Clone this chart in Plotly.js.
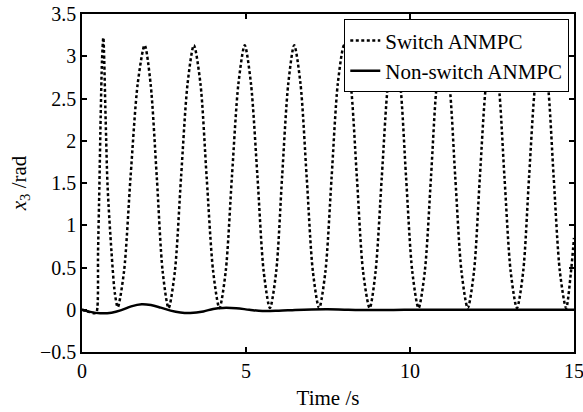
<!DOCTYPE html>
<html>
<head>
<meta charset="utf-8">
<script src="https://cdn.plot.ly/plotly-3.0.1.min.js"></script>
<style>html,body{margin:0;padding:0;background:#fff;}#chart{width:583px;height:412px;}</style>
</head>
<body>
<div id="chart"></div>
<script>
// Switch ANMPC (time in s, x3 in rad)
var switchTime = [0, 0.2, 0.4, 0.45, 0.49, 0.53, 0.57, 0.61, 0.65, 0.72, 0.78, 0.9, 1.0, 1.09,
  1.28, 1.48, 1.70, 1.91, 2.09, 2.28, 2.46, 2.64,
  2.83, 3.02, 3.22, 3.41, 3.61, 3.80, 4.00, 4.19,
  4.38, 4.57, 4.77, 4.96, 5.15, 5.35, 5.54, 5.73,
  5.92, 6.10, 6.29, 6.47, 6.66, 6.85, 7.04, 7.23,
  7.42, 7.61, 7.80, 7.99, 8.19, 8.38, 8.57, 8.77,
  8.95, 9.14, 9.33, 9.51, 9.70, 9.88, 10.07, 10.26,
  10.45, 10.64, 10.82, 11.01, 11.20, 11.38, 11.57, 11.76,
  11.95, 12.13, 12.32, 12.51, 12.70, 12.88, 13.07, 13.26,
  13.45, 13.63, 13.82, 14.01, 14.20, 14.38, 14.57, 14.76,
  14.90, 15.0];
var switchX3 = [0, -0.025, -0.04, -0.02, 0.7, 1.46, 2.3, 2.95, 3.22, 2.26, 1.46, 0.68, 0.2, 0.03,
  0.45, 1.57, 2.68, 3.13, 2.68, 1.57, 0.45, 0.02,
  0.45, 1.57, 2.68, 3.13, 2.68, 1.57, 0.45, 0.02,
  0.45, 1.57, 2.68, 3.13, 2.68, 1.57, 0.45, 0.02,
  0.45, 1.57, 2.68, 3.13, 2.68, 1.57, 0.45, 0.02,
  0.45, 1.57, 2.68, 3.13, 2.68, 1.57, 0.45, 0.02,
  0.45, 1.57, 2.68, 3.13, 2.68, 1.57, 0.45, 0.02,
  0.45, 1.57, 2.68, 3.13, 2.68, 1.57, 0.45, 0.02,
  0.45, 1.57, 2.68, 3.13, 2.68, 1.57, 0.45, 0.02,
  0.45, 1.57, 2.68, 3.13, 2.68, 1.57, 0.45, 0.02,
  0.42, 0.85];

// Non-switch ANMPC
var nonSwitchTime = [0, 0.25, 0.55, 0.9, 1.2, 1.5, 1.82, 2.1, 2.4, 2.7, 3.0, 3.3, 3.7, 4.0, 4.3, 4.7,
  5.1, 5.5, 6.0, 6.5, 7.0, 7.5, 8.0, 8.5, 9.5, 10.5, 12.0, 13.5, 15.0];
var nonSwitchX3 = [0, -0.025, -0.042, -0.035, -0.005, 0.04, 0.065, 0.055, 0.025, -0.01, -0.032, -0.038, -0.02, 0.01, 0.022, 0.018,
  0.0, -0.015, -0.012, -0.003, 0.003, 0.005, 0.0, -0.004, -0.002, 0.0, 0.0, 0.0, 0.0];

var xTicks = [0, 5, 10, 15];
var yTicks = [-0.5, 0, 0.5, 1, 1.5, 2, 2.5, 3, 3.5];
var seriesNames = ['Switch ANMPC', 'Non-switch ANMPC'];

// Plotly quotes the whole family string, so give a single installed family
var fontFam = 'Liberation Serif';

var traces = [
  {x: switchTime, y: switchX3, name: seriesNames[0], type: 'scatter', mode: 'lines',
   line: {color: '#000', width: 2.5, dash: '3px,2.5px', shape: 'spline', smoothing: 0.8}},
  {x: nonSwitchTime, y: nonSwitchX3, name: seriesNames[1], type: 'scatter', mode: 'lines',
   line: {color: '#000', width: 2.5, shape: 'spline', smoothing: 1}}
];

function axisCommon() {
  return {
    showline: true, linecolor: '#000', linewidth: 1.5, mirror: 'ticks',
    ticks: 'inside', ticklen: 5, tickwidth: 1.5, tickcolor: '#000',
    showgrid: false, zeroline: false, ticklabeloverflow: 'allow',
    tickfont: {family: fontFam, size: 20, color: '#000'}
  };
}

var xaxis = axisCommon();
xaxis.range = [0, 15];
xaxis.tickvals = xTicks;
xaxis.ticktext = xTicks.map(String);
xaxis.title = {text: 'Time /s', font: {family: fontFam, size: 21, color: '#000'}, standoff: 10};

var yaxis = axisCommon();
yaxis.range = [-0.5, 3.5];
yaxis.tickvals = yTicks;
yaxis.ticktext = yTicks.map(function(v){return v < 0 ? '\u2212' + Math.abs(v) : String(v);});
yaxis.title = {text: '<i>x</i><sub>3</sub> /rad', font: {family: fontFam, size: 21, color: '#000'}, standoff: 8};

var layout = {
  width: 583, height: 412,
  margin: {l: 82, r: 9, t: 14, b: 60},
  paper_bgcolor: '#fff', plot_bgcolor: '#fff',
  font: {family: fontFam, size: 20, color: '#000'},
  showlegend: true,
  legend: {x: 0.99, y: 0.985, xanchor: 'right', yanchor: 'top',
    bgcolor: '#fff', bordercolor: '#000', borderwidth: 1.2,
    font: {family: fontFam, size: 21, color: '#000'}, tracegroupgap: 0},
  xaxis: xaxis,
  yaxis: yaxis
};

Plotly.newPlot('chart', traces, layout, {displayModeBar: false}).then(function () {
  var texts = document.querySelectorAll('#chart text');
  for (var i = 0; i < texts.length; i++) {
    texts[i].style.fontFamily = "'Liberation Serif'";
  }
});
</script>
</body>
</html>
